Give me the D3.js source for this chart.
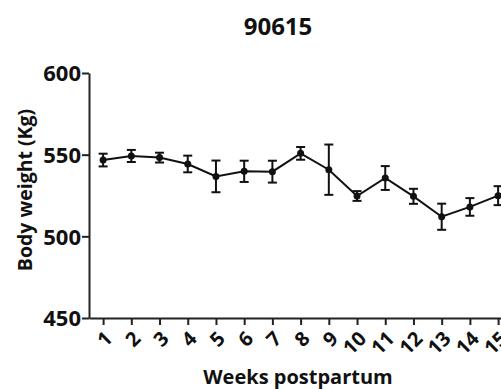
<!DOCTYPE html>
<html>
<head>
<meta charset="utf-8">
<script src="https://cdn.jsdelivr.net/npm/d3@7"></script>
<style>
  body { margin: 0; background: #fff; }
  text { font-family: "Open Sans", sans-serif; fill: #111; }
</style>
</head>
<body>
<div id="chart"></div>
<script>
// data
const weeks = [1, 2, 3, 4, 5, 6, 7, 8, 9, 10, 11, 12, 13, 14, 15];
const means = [546.7, 549.2, 548.2, 544.3, 536.7, 539.8, 539.6, 550.8, 540.8, 524.7, 535.7, 524.5, 512.0, 518.0, 524.9];
const errs  = [3.9, 3.7, 3.0, 5.1, 9.7, 6.5, 6.7, 3.9, 15.4, 3.0, 7.3, 4.6, 8.0, 5.4, 5.8];
const yTicks = [450, 500, 550, 600];

const width = 501, height = 389;
const plotLeft = 89, plotTop = 73, plotBottom = 318;

const svg = d3.select("#chart").append("svg")
  .attr("width", width)
  .attr("height", height);

// x scale: week 1 at 103, week 15 at 498
const step = (498 - 103) / 14;
const x = d3.scaleLinear()
  .domain([0.5, 15.5])
  .range([plotLeft, plotLeft + step * 15]);

const y = d3.scaleLinear()
  .domain([450, 600])
  .range([plotBottom, plotTop]);

// title
svg.append("text")
  .attr("x", 278).attr("y", 35)
  .attr("text-anchor", "middle")
  .style("font-size", "24px")
  .style("font-weight", "bold")
  .text("90615");

// y axis
const yAxis = svg.append("g")
  .attr("transform", "translate(" + plotLeft + ",0)")
  .call(d3.axisLeft(y).tickValues(yTicks).tickSize(7).tickPadding(1).tickSizeOuter(0));
yAxis.select(".domain").attr("stroke", "#222").attr("stroke-width", 2);
yAxis.selectAll(".tick line").attr("stroke", "#222").attr("stroke-width", 2);
yAxis.selectAll(".tick text")
  .style("font-size", "22px")
  .style("font-weight", "bold")
  .attr("dy", "0.35em");

// x axis
const xAxis = svg.append("g")
  .attr("transform", "translate(0," + plotBottom + ")")
  .call(d3.axisBottom(x).tickValues(weeks).tickSize(7).tickSizeOuter(0).tickFormat(d3.format("d")));
xAxis.select(".domain").attr("stroke", "#222").attr("stroke-width", 2);
xAxis.selectAll(".tick line").attr("stroke", "#222").attr("stroke-width", 2);
xAxis.selectAll(".tick text")
  .style("font-size", "20px")
  .style("font-weight", "bold")
  .attr("text-anchor", "end")
  .attr("dy", "0.35em")
  .attr("transform", "translate(5,17) rotate(-45)")
  .attr("x", 0).attr("y", 0);

// axis titles
svg.append("text")
  .attr("x", 298).attr("y", 384)
  .attr("text-anchor", "middle")
  .style("font-size", "20px")
  .style("font-weight", "bold")
  .text("Weeks postpartum");

svg.append("text")
  .attr("transform", "translate(32,190) rotate(-90)")
  .attr("text-anchor", "middle")
  .style("font-size", "19.5px")
  .style("font-weight", "bold")
  .text("Body weight (Kg)");

// line
const line = d3.line()
  .x((d, i) => x(weeks[i]))
  .y(d => y(d));

svg.append("path")
  .datum(means)
  .attr("fill", "none")
  .attr("stroke", "#111")
  .attr("stroke-width", 2)
  .attr("d", line);

// error bars
const bars = svg.append("g").selectAll("g")
  .data(means)
  .enter().append("g");

bars.append("line")
  .attr("x1", (d, i) => x(weeks[i])).attr("x2", (d, i) => x(weeks[i]))
  .attr("y1", (d, i) => y(d + errs[i])).attr("y2", (d, i) => y(d - errs[i]))
  .attr("stroke", "#111").attr("stroke-width", 2);

[1, -1].forEach(function(s) {
  bars.append("line")
    .attr("x1", (d, i) => x(weeks[i]) - 4.5).attr("x2", (d, i) => x(weeks[i]) + 4.5)
    .attr("y1", (d, i) => y(d + s * errs[i])).attr("y2", (d, i) => y(d + s * errs[i]))
    .attr("stroke", "#111").attr("stroke-width", 2);
});

bars.append("circle")
  .attr("cx", (d, i) => x(weeks[i]))
  .attr("cy", d => y(d))
  .attr("r", 3.5)
  .attr("fill", "#111");
</script>
</body>
</html>
